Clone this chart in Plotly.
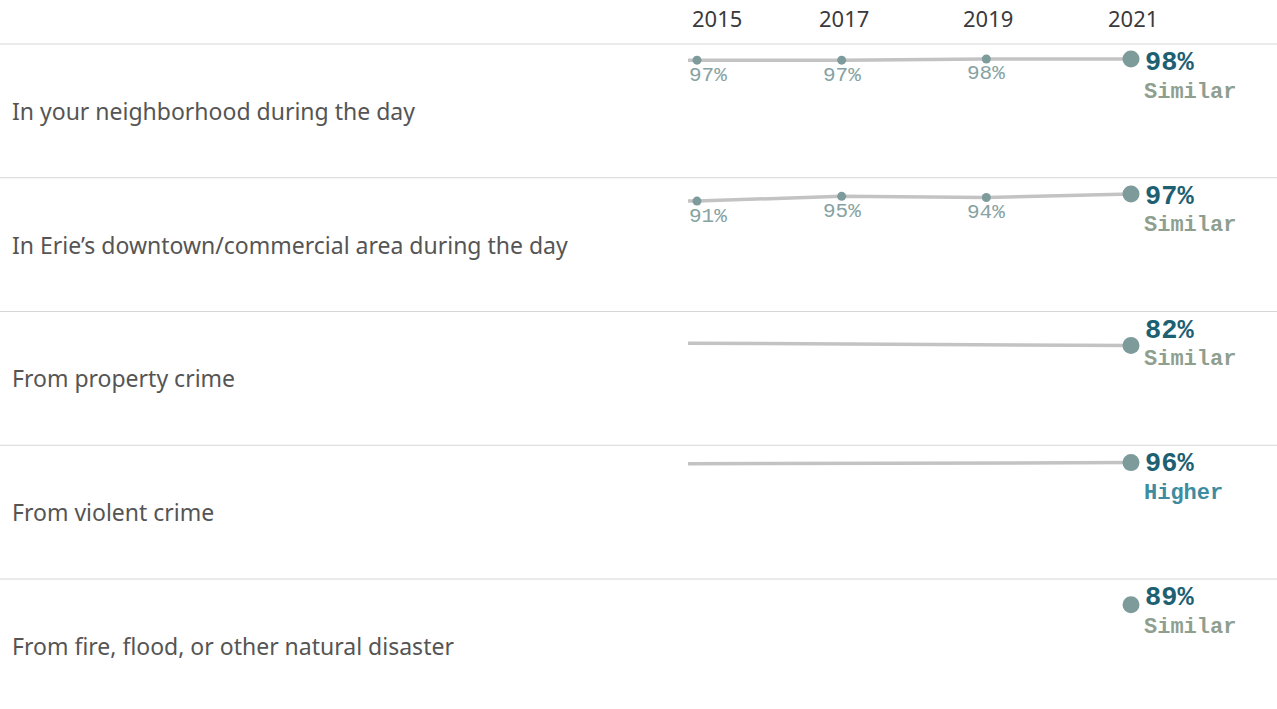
import plotly.graph_objects as go

# ---- data -------------------------------------------------------------
years = [2015, 2017, 2019, 2021]
year_labels = ["2015", "2017", "2019", "2021"]
categories = [
    "In your neighborhood during the day",
    "In Erie’s downtown/commercial area during the day",
    "From property crime",
    "From violent crime",
    "From fire, flood, or other natural disaster",
]
# percent feeling safe, per survey year (None = not asked)
values = [
    [97, 97, 98, 98],
    [91, 95, 94, 97],
    [None, None, None, 82],
    [None, None, None, 96],
    [None, None, None, 89],
]
# trend line value at the left edge of the pane
trend_start = [97, 91, 84, 95, None]
comparison = ["Similar", "Similar", "Similar", "Higher", "Similar"]

# ---- styling / layout constants --------------------------------------
W, H = 1277, 709
HEADER_PX = 44
ROW_PX = 133.75
PANE_LEFT_PX = 688
YEAR_PX = (1131 - 697) / 6          # pixels per year on the x axis
X_START = 2015 - (697 - PANE_LEFT_PX) / YEAR_PX
X_END = X_START + (W - PANE_LEFT_PX) / YEAR_PX
Y_TOP = 110.6                        # value at the top edge of every row
Y_PX = 1.19                          # pixels per percentage point

LINE_C = "#c3c3c3"
DOT_C = "#7e9b9c"
SMALL_LBL_C = "#86a2a2"
VALUE_C = "#1d6072"
CMP_COLORS = {"Similar": "#8f9f8f", "Higher": "#3d8c9f"}
ROW_LBL_C = "#555555"
SEP_C = "#d6d6d6"
MONO = "Liberation Mono, Courier New, monospace"
SANS = "Noto Sans, Open Sans, sans-serif"

fig = go.Figure()
annotations = []
shapes = []

def paper_y(px):
    return 1 - px / H

for i, cat in enumerate(categories):
    top_px = HEADER_PX + i * ROW_PX
    bot_px = min(top_px + ROW_PX, H)
    ax = "" if i == 0 else str(i + 1)
    yname = "y" + ax
    fig.layout["yaxis" + ax] = dict(
        domain=[paper_y(bot_px), paper_y(top_px)],
        range=[Y_TOP - (bot_px - top_px) / Y_PX, Y_TOP],
        anchor="x",
        visible=False,
        fixedrange=True,
    )

    vals = values[i]
    pts_x = [x for x, v in zip(years, vals) if v is not None]
    pts_y = [v for v in vals if v is not None]

    # trend line
    if trend_start[i] is not None:
        fig.add_trace(go.Scatter(
            x=[X_START] + pts_x, y=[trend_start[i]] + pts_y, yaxis=yname,
            mode="lines", line=dict(color=LINE_C, width=3.5),
            hoverinfo="skip", showlegend=False,
        ))

    # earlier-year points and their labels
    for j, (x, v) in enumerate(zip(years[:-1], vals[:-1])):
        if v is None:
            continue
        fig.add_trace(go.Scatter(
            x=[x], y=[v], yaxis=yname, mode="markers",
            marker=dict(color=DOT_C, size=9), showlegend=False,
        ))
        first = j == 0
        annotations.append(dict(
            x=X_START if first else x, y=v, xref="x", yref=yname,
            xanchor="left" if first else "center", yanchor="middle",
            xshift=-1 if first else 0, yshift=-15,
            text=f"{v}%", showarrow=False,
            font=dict(family=MONO, size=21, color=SMALL_LBL_C),
        ))

    # latest year point
    last = vals[-1]
    fig.add_trace(go.Scatter(
        x=[years[-1]], y=[last], yaxis=yname, mode="markers",
        marker=dict(color=DOT_C, size=17), showlegend=False,
    ))
    annotations.append(dict(
        x=years[-1], y=1, xref="x", yref=yname + " domain",
        xanchor="left", yanchor="middle", xshift=12, yshift=-19,
        text=f"<b>{last}%</b>", showarrow=False,
        font=dict(family=MONO, size=27, color=VALUE_C),
    ))
    annotations.append(dict(
        x=years[-1], y=1, xref="x", yref=yname + " domain",
        xanchor="left", yanchor="middle", xshift=11, yshift=-48,
        text=f"<b>{comparison[i]}</b>", showarrow=False,
        font=dict(family=MONO, size=22, color=CMP_COLORS[comparison[i]]),
    ))

    # row label
    annotations.append(dict(
        x=10 / W, y=paper_y((top_px + top_px + ROW_PX) / 2),
        xref="paper", yref="paper", xanchor="left", yanchor="middle",
        text=cat, showarrow=False,
        font=dict(family=SANS, size=23, color=ROW_LBL_C),
    ))

    # row separator
    shapes.append(dict(
        type="line", xref="paper", yref="paper", x0=0, x1=1,
        y0=paper_y(top_px), y1=paper_y(top_px),
        line=dict(color=SEP_C, width=1),
    ))

# year header
for j, (yr, lbl) in enumerate(zip(years, year_labels)):
    first = j == 0
    annotations.append(dict(
        x=X_START if first else yr, y=paper_y(18), xref="x", yref="paper",
        xanchor="left" if first else "center", yanchor="middle",
        xshift=2 if first else 2,
        text=lbl, showarrow=False,
        font=dict(family=SANS, size=22, color="#3a3a3a"),
    ))

fig.update_layout(
    width=W, height=H,
    margin=dict(l=0, r=0, t=0, b=0),
    paper_bgcolor="white", plot_bgcolor="white",
    xaxis=dict(domain=[PANE_LEFT_PX / W, 1], range=[X_START, X_END],
               visible=False, fixedrange=True),
    annotations=annotations,
    shapes=shapes,
    showlegend=False,
)

fig.write_html("out.html", config={"displayModeBar": False})
